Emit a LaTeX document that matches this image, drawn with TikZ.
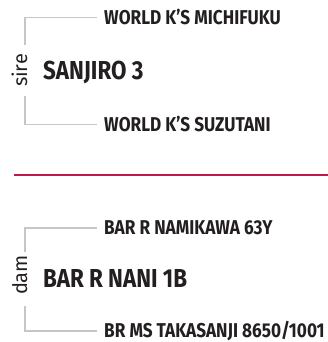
\documentclass[tikz,border=0pt]{standalone}
\usepackage{fontspec}
\newfontfamily\namefont{Fira Sans}[FakeStretch=0.86]
\newfontfamily\sidefont{Fira Sans}
\definecolor{ink}{HTML}{231F20}
\definecolor{linegray}{HTML}{C6C6C6}
\definecolor{rulered}{RGB}{190,24,72}
\tikzset{
  parent/.style={font=\namefont\bfseries\fontsize{20}{20}\selectfont, text=ink,
    anchor=west, inner sep=0pt, text height=13.8pt, text depth=0pt},
  animal/.style={font=\namefont\bfseries\fontsize{26}{26}\selectfont, text=ink,
    anchor=west, inner sep=0pt, text height=17.9pt, text depth=0pt},
  side/.style={font=\sidefont\fontsize{20}{20}\selectfont, text=ink,
    rotate=90, inner sep=0pt, text height=1ex, text depth=0pt},
  bracket/.style={draw=linegray, line width=1.5pt},
}
\begin{document}
\begin{tikzpicture}[x=1pt,y=-1pt]
\useasboundingbox (0,0) rectangle (328,342);

% sire
\node[side] (sire) at (25,70.5) {sire};
\node[animal] (sanjiro) at (43,71) {SANJIRO 3};
\node[parent] (michifuku) at (104,17.5) {WORLD K’S MICHIFUKU};
\node[parent] (suzutani) at (104,124.5) {WORLD K’S SUZUTANI};

\draw[bracket, shorten <=9pt, shorten >=7pt] (sire.east) |- (michifuku.west);
\draw[bracket, shorten <=9pt, shorten >=7pt] (sire.west) |- (suzutani.west);

\draw[rulered, line width=2pt] (14,175) -- (328,175);

% dam
\node[side] (dam) at (25,275) {dam};
\node[animal] (nani) at (43,278.5) {BAR R NANI 1B};
\node[parent] (namikawa) at (104,228) {BAR R NAMIKAWA 63Y};
\node[parent] (takasanji) at (104,331) {BR MS TAKASANJI 8650/1001};

\draw[bracket, shorten <=3pt, shorten >=7pt] (dam.east) |- (namikawa.west);
\draw[bracket, shorten <=11pt, shorten >=7pt] (dam.west) |- (takasanji.west);
\end{tikzpicture}
\end{document}
